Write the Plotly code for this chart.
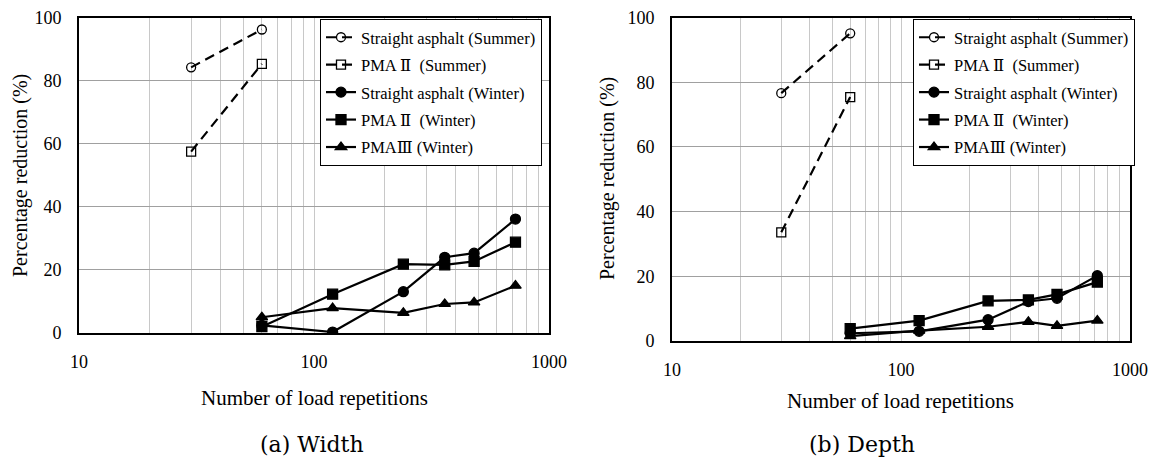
import plotly.graph_objects as go

# ---------------- data ----------------
x_summer = [30, 60]
x_winter = [60, 120, 240, 360, 480, 720]

# (a) Width
w_sa_summer = [84.2, 96.2]
w_pma2_summer = [57.5, 85.3]
w_sa_winter = [2.4, 0.3, 13.1, 24.0, 25.3, 36.1]
w_pma2_winter = [2.0, 12.3, 21.8, 21.6, 22.7, 28.8]
w_pma3_winter = [5.0, 7.9, 6.4, 9.2, 9.7, 15.0]

# (b) Depth
d_sa_summer = [76.6, 95.1]
d_pma2_summer = [33.6, 75.4]
d_sa_winter = [2.4, 3.0, 6.6, 12.2, 13.2, 20.2]
d_pma2_winter = [3.8, 6.3, 12.4, 12.7, 14.4, 18.2]
d_pma3_winter = [1.5, 3.2, 4.4, 5.9, 4.7, 6.3]

names = ["Straight asphalt (Summer)", "PMA Ⅱ  (Summer)", "Straight asphalt (Winter)",
         "PMA Ⅱ  (Winter)", "PMAⅢ (Winter)"]
x_ticks = [10, 20, 30, 40, 50, 60, 70, 80, 90, 100, 200, 300, 400, 500, 600, 700, 800, 900, 1000]
x_ticktext = ["10"] + [""] * 8 + ["100"] + [""] * 8 + ["1000"]
y_ticks = [0, 20, 40, 60, 80, 100]

FONT = "'Times New Roman', 'Liberation Serif', Times, 'DejaVu Serif', serif"
CAP_FONT = "'DejaVu Serif', 'Liberation Serif', serif"
W, H = 1151, 459

fig = go.Figure()

def add_panel(xa, ya, leg, sa_s, p2_s, sa_w, p2_w, p3_w):
    styles = [
        (x_summer, sa_s, "circle-open", 9, "dash"),
        (x_summer, p2_s, "square-open", 9, "dash"),
        (x_winter, sa_w, "circle", 10, "solid"),
        (x_winter, p2_w, "square", 10, "solid"),
        (x_winter, p3_w, "triangle-up", 10, "solid"),
    ]
    for i, (xs, ys, sym, sz, dash) in enumerate(styles):
        fig.add_trace(go.Scatter(
            x=xs, y=ys, mode="lines+markers", name=names[i],
            xaxis=xa, yaxis=ya, legend=leg, legendgroup=f"{leg}{i}",
            line=dict(color="black", width=2.2, dash="10px,6px" if dash == "dash" else "solid"),
            marker=dict(symbol=sym, size=sz, color="black",
                        line=dict(color="black", width=1.3)),
        ))

add_panel("x", "y", "legend", w_sa_summer, w_pma2_summer, w_sa_winter, w_pma2_winter, w_pma3_winter)
add_panel("x2", "y2", "legend2", d_sa_summer, d_pma2_summer, d_sa_winter, d_pma2_winter, d_pma3_winter)

def xaxis(dom, anchor):
    return dict(domain=dom, anchor=anchor, type="log", range=[1, 3], automargin=False,
                tickvals=x_ticks, ticktext=x_ticktext, ticks="",
                showgrid=True, gridcolor="#c8c8c8", gridwidth=1,
                showline=True, linecolor="black", linewidth=2, mirror=True,
                tickfont=dict(family=FONT, size=18, color="black"),
                ticklabelstandoff=11, zeroline=False)

def yaxis(dom, anchor):
    return dict(domain=dom, anchor=anchor, range=[0, 100], tickvals=y_ticks, ticks="",
                automargin=False,
                showgrid=True, gridcolor="#a0a0a0", gridwidth=1,
                showline=True, linecolor="black", linewidth=2, mirror=True,
                tickfont=dict(family=FONT, size=18, color="black"),
                ticklabelstandoff=12, zeroline=False)

lx = [79 / W, 549 / W]
ly = [1 - 333 / H, 1 - 17.5 / H]
rx = [672 / W, 1130 / W]
ry = [1 - 341 / H, 1 - 17.5 / H]

legend_style = dict(font=dict(family=FONT, size=16.5, color="black"),
                    bgcolor="white", bordercolor="black", borderwidth=1,
                    xanchor="left", yanchor="top", tracegroupgap=3,
                    itemwidth=30)

fig.update_layout(
    width=W, height=H, margin=dict(l=0, r=0, t=0, b=0, autoexpand=False),
    paper_bgcolor="white", plot_bgcolor="white",
    font=dict(family=FONT, color="black"),
    xaxis=xaxis(lx, "y"), yaxis=yaxis(ly, "x"),
    xaxis2=xaxis(rx, "y2"), yaxis2=yaxis(ry, "x2"),
    legend=dict(x=320 / W, y=1 - 19 / H, **legend_style),
    legend2=dict(x=913 / W, y=1 - 19 / H, **legend_style),
)

ann = [
    dict(text="Number of load repetitions", x=314 / W, y=1 - 398 / H, size=21),
    dict(text="Number of load repetitions", x=901 / W, y=1 - 401 / H, size=21),
]
for a in ann:
    fig.add_annotation(text=a["text"], x=a["x"], y=a["y"], xref="paper", yref="paper",
                       xanchor="center", yanchor="middle", showarrow=False,
                       font=dict(family=FONT, size=a["size"], color="black"))
for txt, xx in [("(a) Width", 312 / W), ("(b) Depth", 862 / W)]:
    fig.add_annotation(text=txt, x=xx, y=0, xref="paper", yref="paper",
                       xanchor="center", yanchor="bottom", showarrow=False,
                       font=dict(family=CAP_FONT, size=22, color="black"))
for xx, yy in [(20 / W, 1 - 176 / H), (607 / W, 1 - 179 / H)]:
    fig.add_annotation(text="Percentage reduction (%)", x=xx, y=yy, xref="paper", yref="paper",
                       xanchor="center", yanchor="middle", showarrow=False, textangle=-90,
                       font=dict(family=FONT, size=20, color="black"))

fig.write_html("out.html")
